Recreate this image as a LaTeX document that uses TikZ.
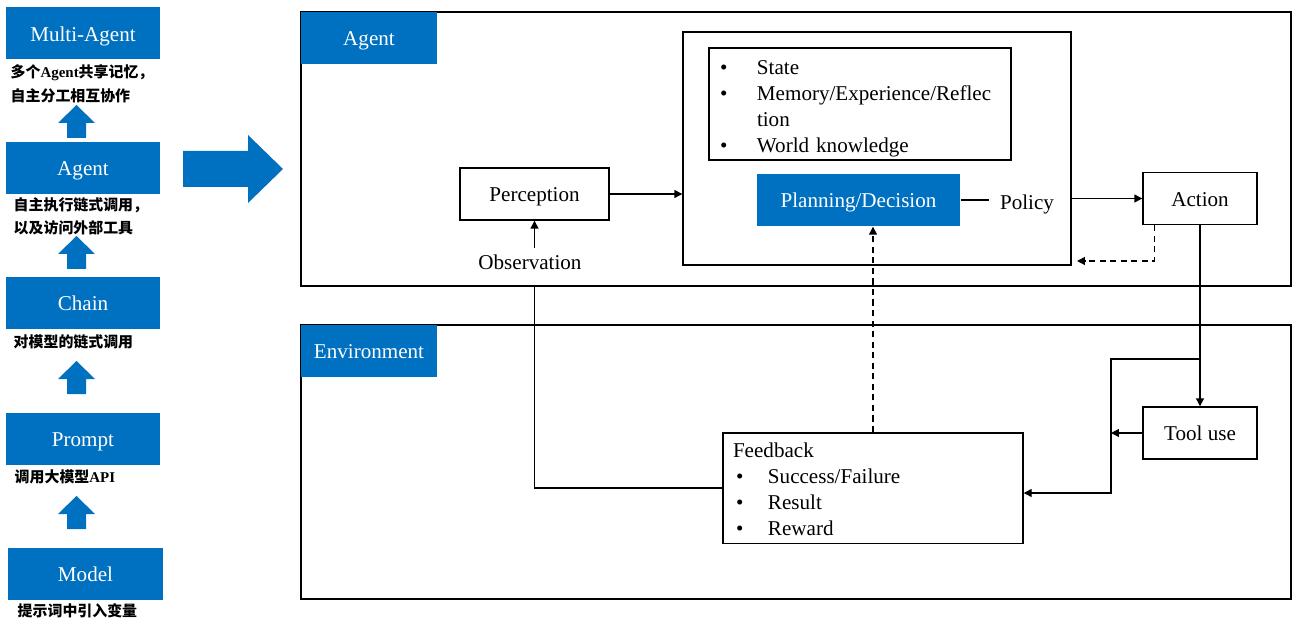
\documentclass[tikz,border=0pt]{standalone}
\usepackage{fontspec}
\setmainfont{Liberation Serif}
\newfontfamily\cjk{Noto Sans CJK SC}
\usetikzlibrary{arrows.meta}
\definecolor{stageblue}{RGB}{0,112,192}
\newcommand\pxu{0.02cm}

\begin{document}
\begin{tikzpicture}[x=0.02cm, y=-0.02cm, >={Triangle[length=4.5pt,width=4.5pt]},
  font=\fontsize{12}{14.8}\selectfont, line width=0.8pt,
  oneline/.style={text height=9pt, text depth=0pt},
  stage/.style={oneline, fill=stageblue, text=white, minimum width=154*\pxu, minimum height=52*\pxu, inner sep=0pt},
  note/.style={anchor=west, inner sep=0pt, font=\fontsize{8.5}{10}\selectfont\cjk\bfseries},
  box/.style={oneline, draw, minimum height=52*\pxu, inner sep=0pt},
  frame/.style={draw, minimum width=990*\pxu, minimum height=274*\pxu, inner sep=0pt},
  tag/.style={oneline, fill=stageblue, text=white, minimum width=136*\pxu, minimum height=52*\pxu, anchor=north west, inner sep=0pt},
  listbox/.style={draw, align=left, inner xsep=10*\pxu, inner ysep=0pt, text width=280*\pxu, minimum height=110*\pxu},
  flow/.style={->, line width=0.7pt},
  back/.style={->, line width=0.7pt, dash pattern=on 3.5pt off 2.5pt}]
  \useasboundingbox (0,0) rectangle (1293,624);

  % development stages on the left
  \node[stage] (multi) at (83,33.5) {Multi-Agent};
  \node[stage] (agentlvl) at (83,168) {Agent};
  \node[stage] (chain) at (83,303) {Chain};
  \node[stage] (prompt) at (83,439) {Prompt};
  \node[stage, minimum width=155*\pxu] (model) at (85.5,573.5) {Model};

  \node[note] (multinote) at (10,73) {多个{\rmfamily Agent}共享记忆，};
  \node[note] (multinotetwo) at (10,96) {自主分工相互协作};
  \node[note] (agentnote) at (13,205) {自主执行链式调用，};
  \node[note] (agentnotetwo) at (13,228) {以及访问外部工具};
  \node[note] (chainnote) at (13,342) {对模型的链式调用};
  \node[note] (promptnote) at (14,477) {调用大模型{\rmfamily API}};
  \node[note] (modelnote) at (17,611) {提示词中引入变量};

  % block arrows between stages
  \foreach \t in {105,236,361,496}{
    \fill[stageblue] (67,\t+33) -- (67,\t+18) -- (58,\t+18) -- (76.5,\t)
      -- (95,\t+18) -- (86,\t+18) -- (86,\t+33) -- cycle;
  }
  \fill[stageblue] (183,151) -- (248,151) -- (248,135) -- (283,169)
    -- (248,203) -- (248,187) -- (183,187) -- cycle;

  % agent and environment frames
  \node[frame] (agentbox) at (796,149) {};
  \node[frame] (envbox) at (796,462) {};
  \node[tag] (agenttag) at (agentbox.north west) {Agent};
  \node[tag] (envtag) at (envbox.north west) {Environment};

  % agent internals
  \node[draw, minimum width=388*\pxu, minimum height=233*\pxu] (core) at (877,148.5) {};
  \node[listbox, inner xsep=11*\pxu, minimum width=302*\pxu] (memory) at (860,104)
    {\begin{tabular}{@{}p{0.74cm}@{}l@{}}
      \rule{0pt}{15pt}\textbullet & State\\
      \textbullet & Memory/Experience/Reflec\\
                  & tion\\
      \textbullet & World knowledge
     \end{tabular}};
  \node[box, fill=stageblue, text=white, draw=none, minimum width=203*\pxu] (planning) at (858.5,200) {Planning/Decision};
  \node[oneline, inner xsep=6pt] (policy) at (1027,202) {Policy};
  \node[box, minimum width=149*\pxu] (perception) at (534.5,194) {Perception};
  \node[oneline] (observation) at (530,262) {Observation};
  \node[box, minimum width=114*\pxu] (action) at (1200,198.5) {Action};

  % environment internals
  \node[box, minimum width=114*\pxu] (tooluse) at (1200,433) {Tool use};
  \node[listbox, minimum width=300*\pxu] (feedback) at (873,488)
    {\begin{tabular}{@{}p{0.7cm}@{}l@{}}
      \multicolumn{2}{@{}l@{}}{\rule{0pt}{14pt}Feedback}\\
      \hspace*{0.06cm}\textbullet & Success/Failure\\
      \hspace*{0.06cm}\textbullet & Result\\
      \hspace*{0.06cm}\textbullet & Reward
     \end{tabular}};

  \coordinate (ret) at (1077,261);
  \coordinate (bus) at (1111,359);
  \coordinate (busend) at (1111,493);

  % connectors
  \draw[flow] (perception.east) -- (perception.east -| core.west);
  \draw[flow] (observation.north -| perception.south) -- (perception.south);
  \draw (planning.east) -- (planning.east -| policy.west);
  \draw[flow] (core.east |- action.west) -- (action.west);
  \draw[back] ([xshift=12*\pxu]action.south west) |- (ret);
  \draw[flow] (action.south) -- (tooluse.north);
  \draw[flow] (tooluse.west) -- (tooluse.west -| bus);
  \draw[flow] (action.south |- bus) -- (bus) -- (busend) -- (busend -| feedback.east);
  \draw[back] (feedback.north) -- (feedback.north |- planning.south);
  \draw (perception.south |- agentbox.south) |- (feedback.west);
\end{tikzpicture}
\end{document}
